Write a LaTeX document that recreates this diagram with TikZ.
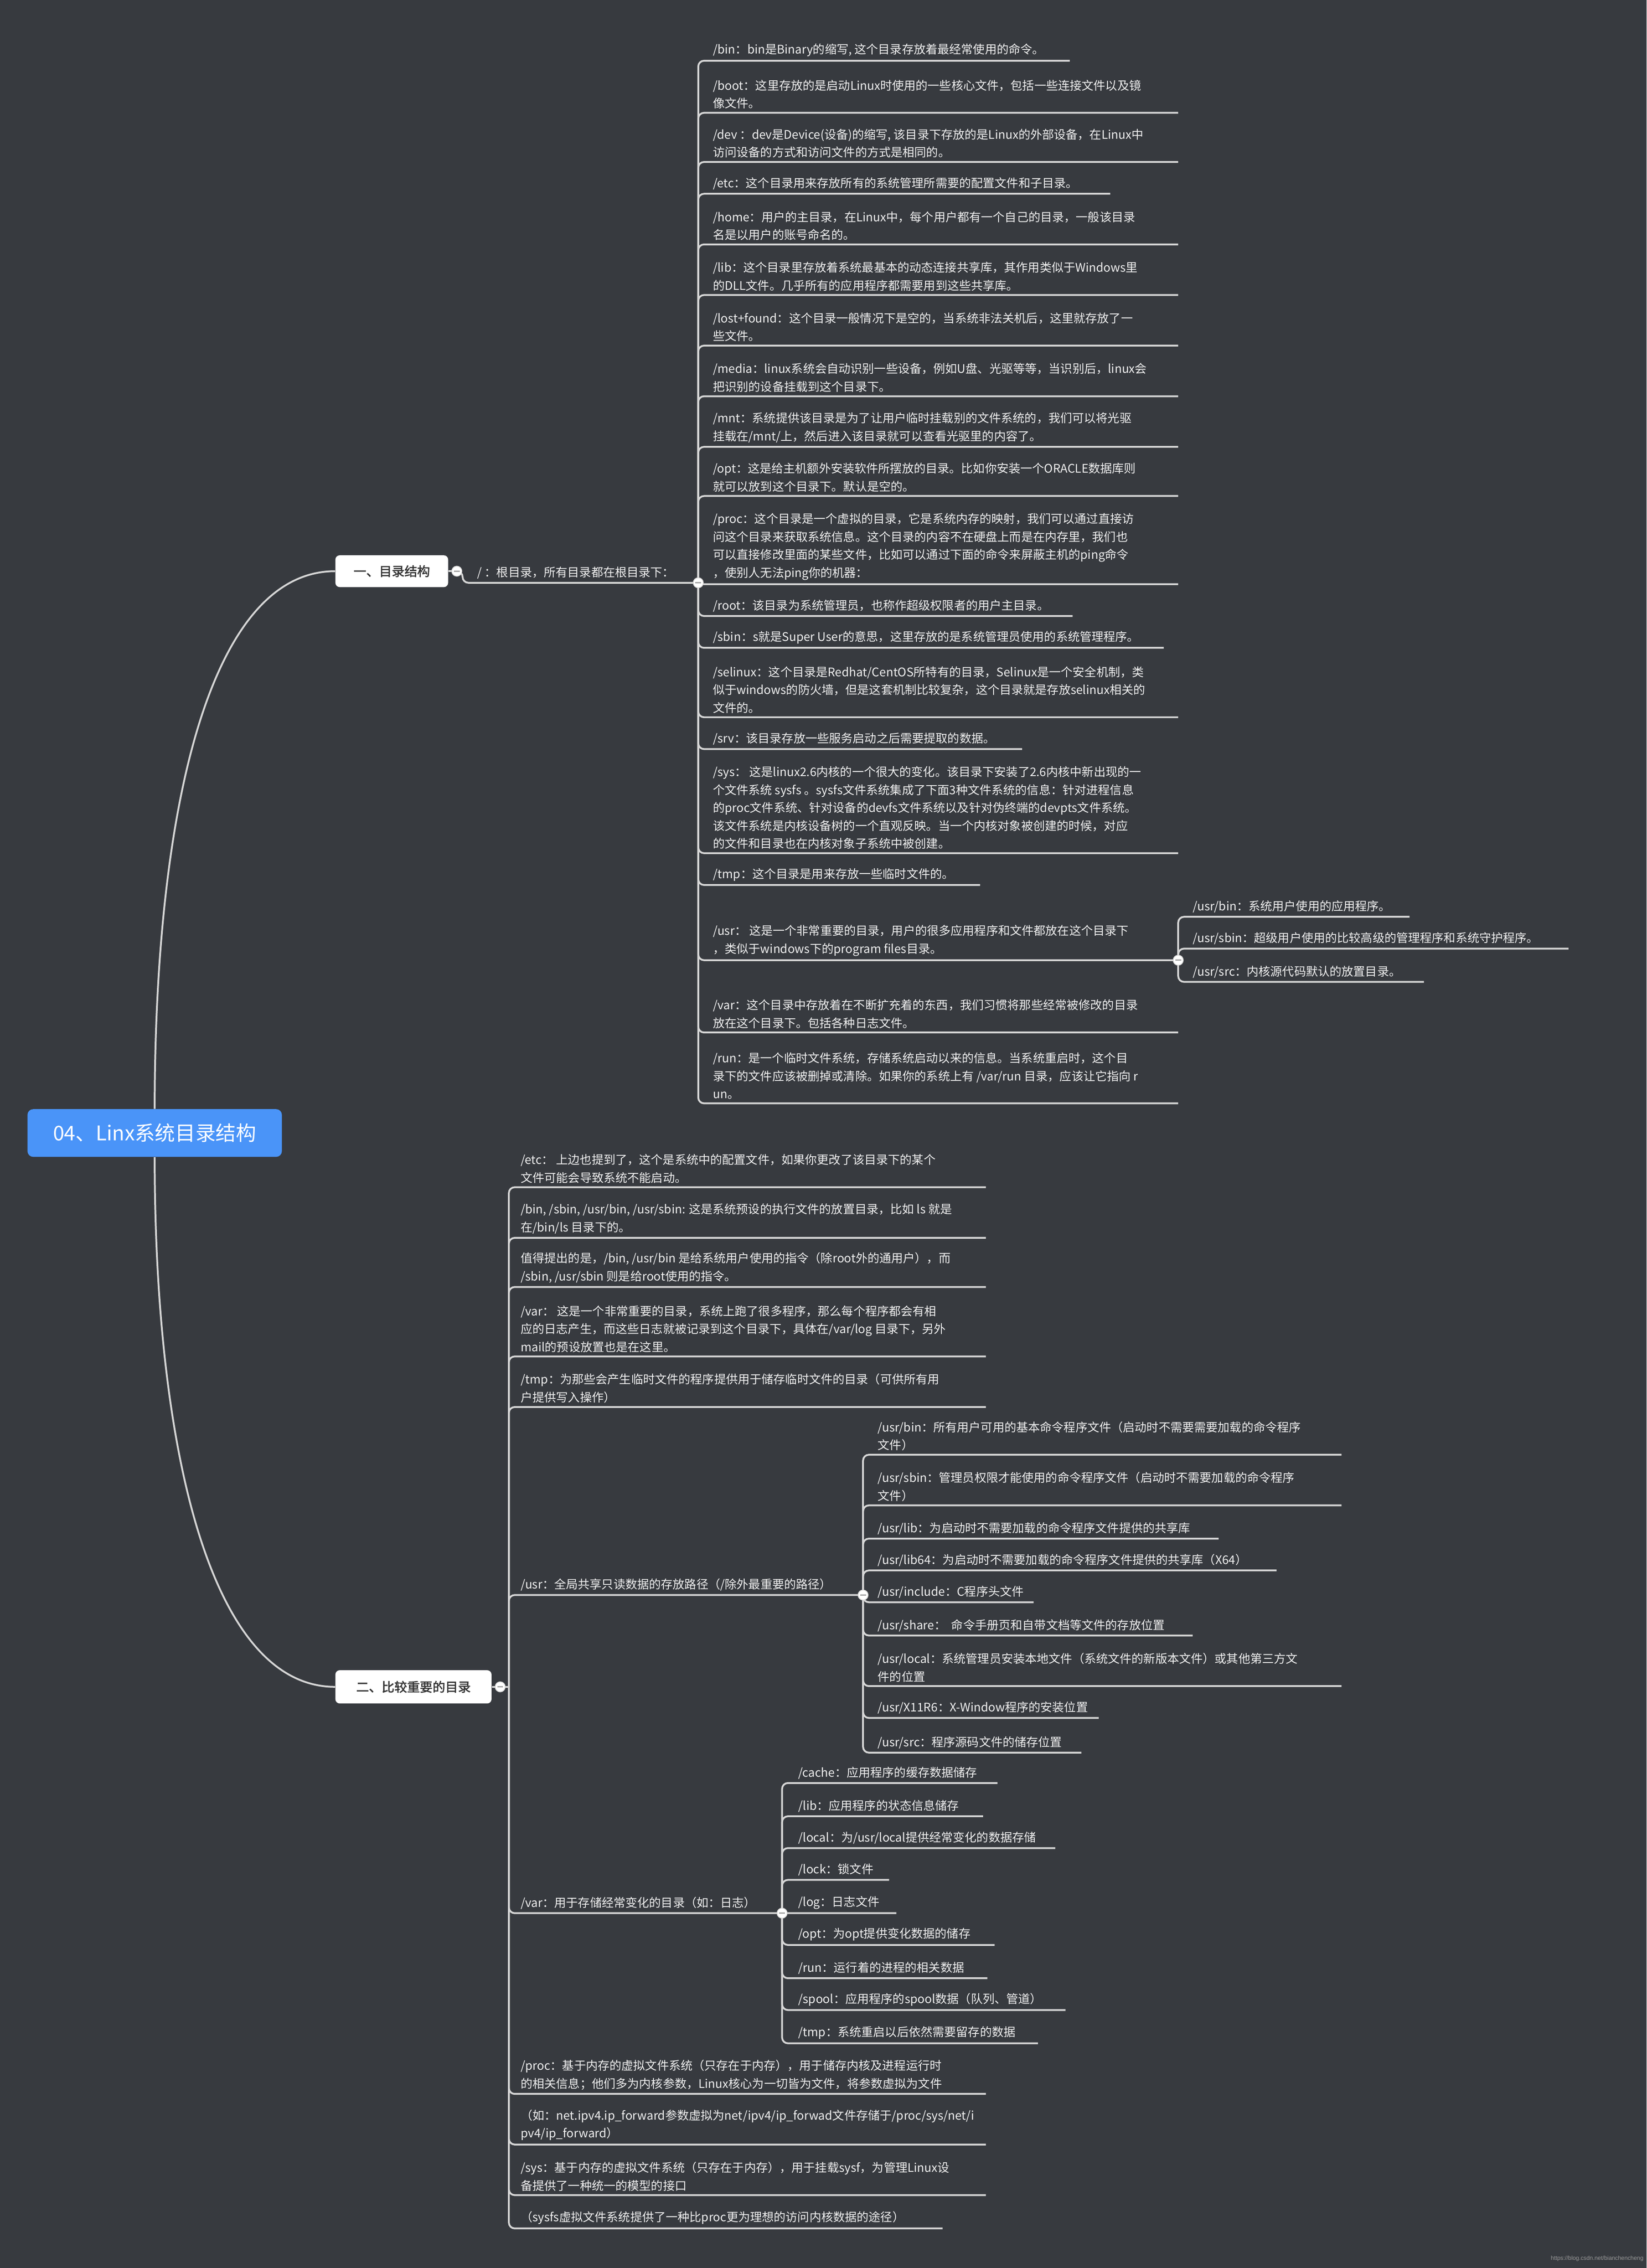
\documentclass[tikz,border=0pt]{standalone}
\usepackage{fontspec}
\setmainfont{Noto Sans CJK SC}[AutoFakeBold=2]
\newfontfamily\wmfont{Liberation Sans}
\definecolor{bg}{HTML}{373A3F}
\definecolor{linec}{HTML}{D6D6D6}
\definecolor{txt}{HTML}{F0F0F0}
\definecolor{rootblue}{HTML}{4A94F8}
\definecolor{darktxt}{HTML}{333333}
\tikzset{
 conn/.style={draw=linec, line width=1.25pt, rounded corners=4pt},
 leafs/.style={anchor=south west, inner sep=0pt, align=left, text=txt, font=\fontsize{8.2}{12.4}\selectfont},
 knob/.style={circle, fill=white, draw=linec, line width=0.5pt, inner sep=0pt, minimum size=7pt,
   path picture={\draw[gray!70, line width=0.9pt] ([xshift=-2pt]path picture bounding box.center) -- ([xshift=2pt]path picture bounding box.center);}},
 sec/.style={fill=white, rounded corners=3pt, text=darktxt, font=\fontsize{8.8}{10}\selectfont\bfseries, inner sep=0pt},
}
\newcommand\lf[6]{%
 \node[leafs] (#1) at (#3,#4-2.6) {#6};
 \coordinate (#1e) at (#5,#4);
 \draw[conn] (#2) |- (#1e);
}
\begin{document}
\begin{tikzpicture}[x=1pt,y=-1pt]
\fill[bg] (0,0) rectangle (1139,1568.4);
\useasboundingbox (0,0) rectangle (1139,1568.4);

% root and sections
\node[fill=rootblue, rounded corners=4pt, minimum width=176pt, minimum height=33pt, text=white, font=\fontsize{14}{16}\selectfont] (root) at (107,783.5) {04、Linx系统目录结构};
\node[sec, minimum width=78pt, minimum height=22pt] (s1) at (271,395) {一、目录结构};
\node[sec, minimum width=108pt, minimum height=23pt] (s2) at (286,1166.5) {二、比较重要的目录};
\draw[conn] (root.north) .. controls (107,560) and (145,395) .. (s1.west);
\draw[conn] (root.south) .. controls (107,1000) and (145,1166.5) .. (s2.west);

% knob coordinates
\coordinate (k1) at (316,395);
\coordinate (k2) at (483,403);
\coordinate (k3) at (346,1166.5);
\coordinate (t2) at (352,1166.5);
\coordinate (k5) at (815,664);
\coordinate (k6) at (597,1103);
\coordinate (k7) at (541,1323);

% section 1
\draw[conn] (s1.east) -- (k1);
\node[leafs] (rootdir) at (330,403-2.6) {/ ：根目录，所有目录都在根目录下：};
\draw[conn] (k1) -- (320,395) |- (k2);

\lf{a1}{k2}{493}{42}{740}{/bin：bin是Binary的缩写, 这个目录存放着最经常使用的命令。}
\lf{a2}{k2}{493}{78}{815}{/boot：这里存放的是启动Linux时使用的一些核心文件，包括一些连接文件以及镜\\像文件。}
\lf{a3}{k2}{493}{112}{815}{/dev ：dev是Device(设备)的缩写, 该目录下存放的是Linux的外部设备，在Linux中\\访问设备的方式和访问文件的方式是相同的。}
\lf{a4}{k2}{493}{134}{768}{/etc：这个目录用来存放所有的系统管理所需要的配置文件和子目录。}
\lf{a5}{k2}{493}{169}{815}{/home：用户的主目录，在Linux中，每个用户都有一个自己的目录，一般该目录\\名是以用户的账号命名的。}
\lf{a6}{k2}{493}{204}{815}{/lib：这个目录里存放着系统最基本的动态连接共享库，其作用类似于Windows里\\的DLL文件。几乎所有的应用程序都需要用到这些共享库。}
\lf{a7}{k2}{493}{239}{815}{/lost+found：这个目录一般情况下是空的，当系统非法关机后，这里就存放了一\\些文件。}
\lf{a8}{k2}{493}{274}{815}{/media：linux系统会自动识别一些设备，例如U盘、光驱等等，当识别后，linux会\\把识别的设备挂载到这个目录下。}
\lf{a9}{k2}{493}{309}{815}{/mnt：系统提供该目录是为了让用户临时挂载别的文件系统的，我们可以将光驱\\挂载在/mnt/上，然后进入该目录就可以查看光驱里的内容了。}
\lf{a10}{k2}{493}{343}{815}{/opt：这是给主机额外安装软件所摆放的目录。比如你安装一个ORACLE数据库则\\就可以放到这个目录下。默认是空的。}
\lf{a11}{k2}{493}{404}{815}{/proc：这个目录是一个虚拟的目录，它是系统内存的映射，我们可以通过直接访\\问这个目录来获取系统信息。这个目录的内容不在硬盘上而是在内存里，我们也\\可以直接修改里面的某些文件，比如可以通过下面的命令来屏蔽主机的ping命令\\，使别人无法ping你的机器：}
\lf{a12}{k2}{493}{426}{742}{/root：该目录为系统管理员，也称作超级权限者的用户主目录。}
\lf{a13}{k2}{493}{448}{805}{/sbin：s就是Super User的意思，这里存放的是系统管理员使用的系统管理程序。}
\lf{a14}{k2}{493}{496}{815}{/selinux：这个目录是Redhat/CentOS所特有的目录，Selinux是一个安全机制，类\\似于windows的防火墙，但是这套机制比较复杂，这个目录就是存放selinux相关的\\文件的。}
\lf{a15}{k2}{493}{518}{707}{/srv：该目录存放一些服务启动之后需要提取的数据。}
\lf{a16}{k2}{493}{590}{815}{/sys： 这是linux2.6内核的一个很大的变化。该目录下安装了2.6内核中新出现的一\\个文件系统 sysfs 。sysfs文件系统集成了下面3种文件系统的信息：针对进程信息\\的proc文件系统、针对设备的devfs文件系统以及针对伪终端的devpts文件系统。\\该文件系统是内核设备树的一个直观反映。当一个内核对象被创建的时候，对应\\的文件和目录也在内核对象子系统中被创建。}
\lf{a17}{k2}{493}{612}{678}{/tmp：这个目录是用来存放一些临时文件的。}
\lf{a18}{k2}{493}{664}{815}{/usr： 这是一个非常重要的目录，用户的很多应用程序和文件都放在这个目录下\\，类似于windows下的program files目录。}
\lf{a19}{k2}{493}{714}{815}{/var：这个目录中存放着在不断扩充着的东西，我们习惯将那些经常被修改的目录\\放在这个目录下。包括各种日志文件。}
\lf{a20}{k2}{493}{763}{815}{/run：是一个临时文件系统，存储系统启动以来的信息。当系统重启时，这个目\\录下的文件应该被删掉或清除。如果你的系统上有 /var/run 目录，应该让它指向 r\\un。}

\lf{u1}{k5}{825}{634}{975}{/usr/bin：系统用户使用的应用程序。}
\lf{u2}{k5}{825}{656}{1085}{/usr/sbin：超级用户使用的比较高级的管理程序和系统守护程序。}
\lf{u3}{k5}{825}{679}{985}{/usr/src：内核源代码默认的放置目录。}

% section 2
\draw[conn] (s2.east) -- (t2);
\lf{b1}{t2}{360}{821}{682}{/etc： 上边也提到了，这个是系统中的配置文件，如果你更改了该目录下的某个\\文件可能会导致系统不能启动。}
\lf{b2}{t2}{360}{856}{682}{/bin, /sbin, /usr/bin, /usr/sbin: 这是系统预设的执行文件的放置目录，比如 ls 就是\\在/bin/ls 目录下的。}
\lf{b3}{t2}{360}{890}{682}{值得提出的是，/bin, /usr/bin 是给系统用户使用的指令（除root外的通用户），而\\/sbin, /usr/sbin 则是给root使用的指令。}
\lf{b4}{t2}{360}{938}{682}{/var： 这是一个非常重要的目录，系统上跑了很多程序，那么每个程序都会有相\\应的日志产生，而这些日志就被记录到这个目录下，具体在/var/log 目录下，另外\\mail的预设放置也是在这里。}
\lf{b5}{t2}{360}{973}{682}{/tmp：为那些会产生临时文件的程序提供用于储存临时文件的目录（可供所有用\\户提供写入操作）}
\lf{b6}{t2}{360}{1103}{597}{/usr：全局共享只读数据的存放路径（/除外最重要的路径）}
\lf{b7}{t2}{360}{1323}{541}{/var：用于存储经常变化的目录（如：日志）}
\lf{b8}{t2}{360}{1448}{682}{/proc：基于内存的虚拟文件系统（只存在于内存），用于储存内核及进程运行时\\的相关信息；他们多为内核参数，Linux核心为一切皆为文件，将参数虚拟为文件}
\lf{b9}{t2}{360}{1483}{682}{（如：net.ipv4.ip\_forward参数虚拟为net/ipv4/ip\_forwad文件存储于/proc/sys/net/i\\pv4/ip\_forward）}
\lf{b10}{t2}{360}{1518}{682}{/sys：基于内存的虚拟文件系统（只存在于内存），用于挂载sysf，为管理Linux设\\备提供了一种统一的模型的接口}
\lf{b11}{t2}{360}{1541}{652}{（sysfs虚拟文件系统提供了一种比proc更为理想的访问内核数据的途径）}

\lf{c1}{k6}{607}{1006}{928}{/usr/bin：所有用户可用的基本命令程序文件（启动时不需要需要加载的命令程序\\文件）}
\lf{c2}{k6}{607}{1041}{928}{/usr/sbin：管理员权限才能使用的命令程序文件（启动时不需要加载的命令程序\\文件）}
\lf{c3}{k6}{607}{1064}{843}{/usr/lib：为启动时不需要加载的命令程序文件提供的共享库}
\lf{c4}{k6}{607}{1086}{883}{/usr/lib64：为启动时不需要加载的命令程序文件提供的共享库（X64）}
\lf{c5}{k6}{607}{1108}{715}{/usr/include：C程序头文件}
\lf{c6}{k6}{607}{1131}{825}{/usr/share：\ \ 命令手册页和自带文档等文件的存放位置}
\lf{c7}{k6}{607}{1166}{928}{/usr/local：系统管理员安装本地文件（系统文件的新版本文件）或其他第三方文\\件的位置}
\lf{c8}{k6}{607}{1188}{760}{/usr/X11R6：X-Window程序的安装位置}
\lf{c9}{k6}{607}{1212}{748}{/usr/src：程序源码文件的储存位置}

\lf{d1}{k7}{552}{1233}{690}{/cache：应用程序的缓存数据储存}
\lf{d2}{k7}{552}{1256}{680}{/lib：应用程序的状态信息储存}
\lf{d3}{k7}{552}{1278}{730}{/local：为/usr/local提供经常变化的数据存储}
\lf{d4}{k7}{552}{1300}{615}{/lock：锁文件}
\lf{d5}{k7}{552}{1323}{620}{/log：日志文件}
\lf{d6}{k7}{552}{1345}{688}{/opt：为opt提供变化数据的储存}
\lf{d7}{k7}{552}{1368}{683}{/run：运行着的进程的相关数据}
\lf{d8}{k7}{552}{1390}{737}{/spool：应用程序的spool数据（队列、管道）}
\lf{d9}{k7}{552}{1413}{718}{/tmp：系统重启以后依然需要留存的数据}

% knobs on top
\foreach \k in {k1,k2,k3,k5,k6,k7} \node[knob] (n\k) at (\k) {};

\node[anchor=east, inner sep=0pt, text=gray!80, font=\wmfont\fontsize{4}{5}\selectfont] (wm) at (1137,1562) {https://blog.csdn.net/bianchencheng};
\end{tikzpicture}
\end{document}
